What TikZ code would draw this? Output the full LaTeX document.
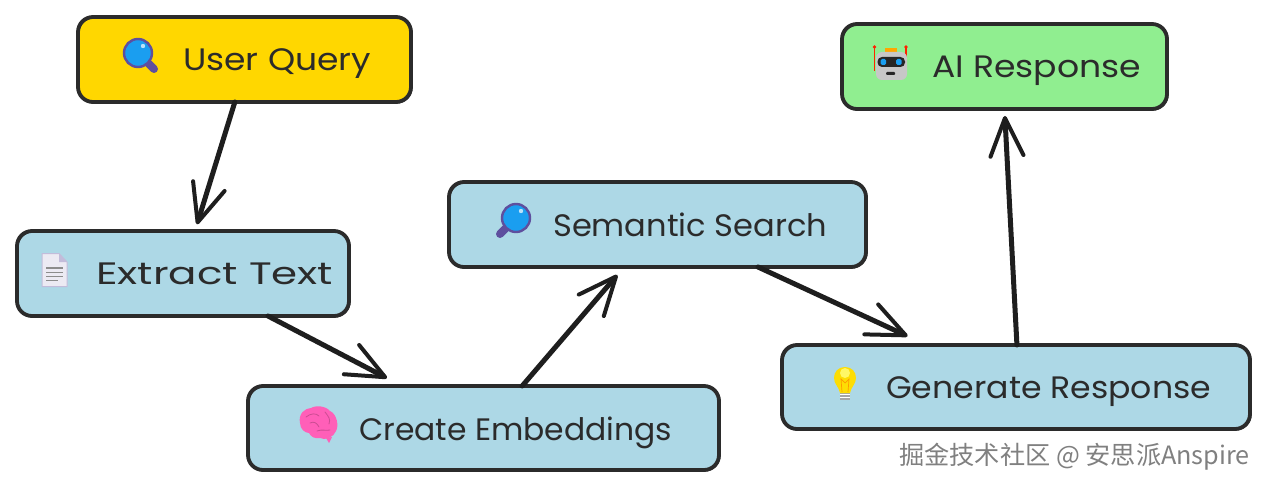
\documentclass[tikz,border=0pt]{standalone}
\usepackage{graphicx}
\usepackage{fontspec}
\setmainfont{Poppins}
\newfontfamily\cjkwm{Noto Sans CJK SC}
\usetikzlibrary{arrows.meta,calc}
\definecolor{ink}{HTML}{2B2B2B}
\definecolor{inkline}{HTML}{1E1E1E}
\definecolor{boxblue}{HTML}{ADD8E6}
\definecolor{boxgold}{HTML}{FFD700}
\definecolor{boxgreen}{HTML}{90EE90}
\definecolor{lensblue}{HTML}{1A9EF0}
\definecolor{lensrim}{HTML}{5E4F9E}
\definecolor{brainpink}{HTML}{FF5FB8}
\newcommand{\fitw}[2]{\resizebox{#1pt}{\height}{#2}}
\tikzset{
  x=1pt,y=-1pt,
  box/.style={draw=ink,line width=3.8pt,rounded corners=15pt,outer sep=0pt,inner sep=0pt,
    postaction={draw=ink,line width=1.3pt,rounded corners=15pt,transform canvas={shift={(0.9pt,-0.9pt)}}}},
  lbl/.style={anchor=base west,inner sep=0pt,text=ink,font=\fontsize{31}{31}\selectfont},
  conn/.style={draw=inkline,line width=5pt,line cap=round,
    -{Straight Barb[length=38pt,width=33pt,line width=4pt,round]}},
  wm/.style={anchor=base east,inner sep=0pt,text=black!50,font=\cjkwm\fontsize{25.2}{26}\selectfont},
}
\newcommand{\lens}[4]{% cx cy hx hy
  \draw[lensrim,line width=8pt,line cap=round] (#1,#2) -- (#3,#4);
  \fill[lensblue,draw=lensrim,line width=2.4pt] (#1,#2) circle[radius=14];
}
\begin{document}
\begin{tikzpicture}
\useasboundingbox (0,0) rectangle (1267,487);
\fill[white] (0,0) rectangle (1267,487);

% boxes
\node[box,fill=boxgold,minimum width=333pt,minimum height=85pt] (uq) at (244.5,59.5) {};
\node[box,fill=boxblue,minimum width=332pt,minimum height=85pt] (et) at (183,273.5) {};
\node[box,fill=boxblue,minimum width=471pt,minimum height=84pt] (ce) at (483.5,428) {};
\node[box,fill=boxblue,minimum width=417pt,minimum height=85pt] (ss) at (657.5,224.5) {};
\node[box,fill=boxblue,minimum width=468pt,minimum height=84pt] (gr) at (1016,387) {};
\node[box,fill=boxgreen,minimum width=325pt,minimum height=85pt] (ai) at (1004.5,66.5) {};

% labels
\node[lbl] (tuq) at (183,71) {\fitw{188}{User Query}};
\node[lbl] (tet) at (96,284) {\fitw{237}{Extract Text}};
\node[lbl] (tce) at (359,440) {\fitw{313}{Create Embeddings}};
\node[lbl] (tss) at (553,236) {\fitw{274}{Semantic Search}};
\node[lbl] (tgr) at (886,398) {\fitw{325}{Generate Response}};
\node[lbl] (tai) at (932,78) {\fitw{209}{AI Response}};

% connectors
\draw[conn,shorten >=7pt] ($(uq.south west)!.471!(uq.south east)$) -- ($(et.north west)!.536!(et.north east)$);
\draw[conn,shorten >=17pt] ($(et.south west)!.756!(et.south east)$) -- ($(ce.north west)!.327!(ce.north east)$);
\draw[conn,shorten >=10.5pt] ($(ce.north west)!.582!(ce.north east)$) -- ($(ss.south west)!.42!(ss.south east)$);
\draw[conn,shorten >=21pt] ($(ss.south west)!.741!(ss.south east)$) -- ($(gr.north west)!.309!(gr.north east)$);
\draw[conn,shorten >=7pt] ($(gr.north west)!.502!(gr.north east)$) -- ($(ai.south west)!.50!(ai.south east)$);

% magnifier, User Query
\lens{138}{53}{154}{69}
\fill[white!70!lensblue] (143,46) circle[radius=2.2];
% magnifier, Semantic Search
\lens{516}{218}{500}{234}
\fill[white!70!lensblue] (521,211) circle[radius=2.2];

% document
\fill[white!88!lensrim,draw=white!62!lensrim,line width=1pt,line join=round]
  (42,253.5) -- (59,253.5) -- (67,262) -- (67,286.5) -- (42,286.5) -- cycle;
\fill[white!62!lensrim] (59,253.5) -- (67,262) -- (59,262) -- cycle;
\foreach \yy/\xe in {268/63,272.5/63,276.5/63,280.5/58}
  \draw[black!45,line width=1.1pt] (46,\yy) -- (\xe,\yy);

% brain
\fill[brainpink] (326,438) -- (329,443) -- (332,437) -- cycle;
\fill[brainpink] (300,423)
  .. controls (298,414) and (305,408) .. (311,408)
  .. controls (316,405) and (326,406) .. (330,411)
  .. controls (337,414) and (339,426) .. (336,431)
  .. controls (334,437) and (325,441) .. (320,438)
  .. controls (315,439) and (311,437) .. (309,433)
  .. controls (305,433) and (300,429) .. (300,423) -- cycle;
\draw[brainpink!80!black,line width=.8pt,line cap=round]
  (306,417) .. controls (311,413) and (316,413) .. (319,416)
  (325,412) .. controls (328,416) and (331,419) .. (329,424)
  (310,423) .. controls (314,421) and (317,423) .. (319,427)
  (317,431) .. controls (322,429) and (326,431) .. (330,430);

% light bulb
\fill[black!35] (840,392) rectangle (850,400);
\foreach \yy in {394,397} \draw[white,line width=.7pt] (840,\yy) -- (850,\yy);
\fill[yellow!80!orange] (845,367)
  .. controls (852,367) and (856,372) .. (856,378)
  .. controls (856,384) and (851,387) .. (850,393)
  -- (840,393)
  .. controls (839,387) and (834,384) .. (834,378)
  .. controls (834,372) and (838,367) .. (845,367) -- cycle;
\fill[yellow!60!white] (845,373) circle[radius=5];
\draw[orange!80!yellow,line width=.7pt] (842,392) -- (841,379) -- (845,383) -- (849,379) -- (848,392);

% robot
\draw[red!75!orange,line width=1.5pt] (874.5,47) -- (874.5,71);
\draw[red!75!orange,line width=1.5pt] (906,47) -- (906,71);
\fill[red!75!orange] (874.5,47) circle[radius=1.8] (906,47) circle[radius=1.8];
\fill[orange!70!yellow] (885,48) rectangle (897,53);
\fill[black!22,rounded corners=6pt] (876,52) rectangle (907,80);
\fill[black!85,rounded corners=4.5pt] (877.5,57) rectangle (905,67);
\fill[lensblue,rounded corners=1.5pt] (880.5,59) rectangle (886,65);
\fill[lensblue,rounded corners=1.5pt] (896,59) rectangle (901.5,65);
\fill[black!85,rounded corners=1pt] (886,72) rectangle (895,75);

% watermark
\node[wm] (wm) at (1250,464) {掘金技术社区 @ 安思派Anspire};
\end{tikzpicture}
\end{document}
